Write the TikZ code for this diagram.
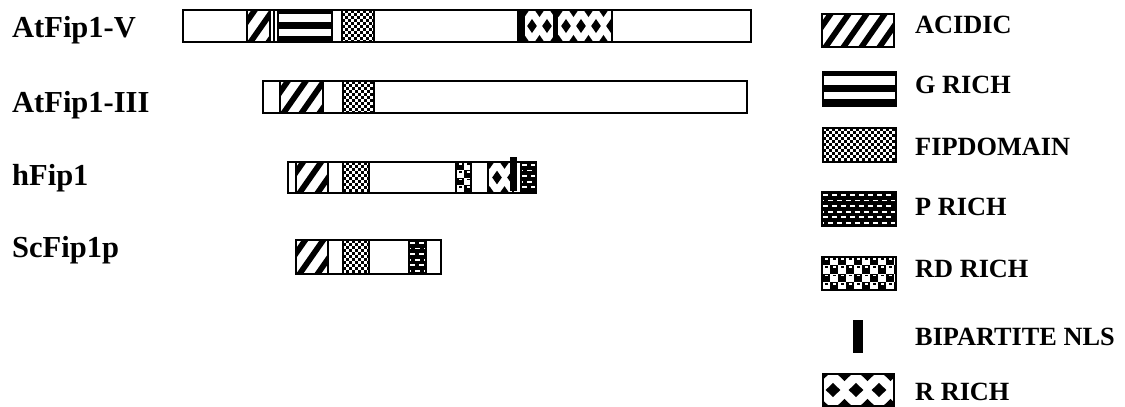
\documentclass[tikz,border=0pt]{standalone}
\usepackage{fontspec}
\setmainfont{Liberation Serif}
\tikzset{
  segb/.style={draw=black, line width=1.2pt},
  barb/.style={draw=black, line width=1.8pt, fill=white},
  lab/.style={inner sep=0pt, anchor=base west, font=\bfseries\fontsize{30.5}{31}\selectfont},
  leg/.style={inner sep=0pt, anchor=base west, font=\bfseries\fontsize{26.3}{27}\selectfont},
}
% acidic: diagonal stripes
\newcommand{\PatAcid}[4]{%
  \begin{scope}
    \clip (#1,#2) rectangle (#3,#4);
    \fill[white] (#1,#2) rectangle (#3,#4);
    \pgfmathsetmacro{\hh}{#4-#2}
    \foreach \k in {0,...,9}{%
      \pgfmathsetmacro{\xa}{#1-54+\k*18}
      \fill (\xa,#4) -- (\xa+7,#4) -- (\xa+7+0.7*\hh,#2) -- (\xa+0.7*\hh,#2) -- cycle;}
  \end{scope}
  \draw[segb] (#1,#2) rectangle (#3,#4);}
% G rich: horizontal bands
\newcommand{\PatG}[4]{%
  \begin{scope}
    \clip (#1,#2) rectangle (#3,#4);
    \fill[white] (#1,#2) rectangle (#3,#4);
    \pgfmathsetmacro{\hh}{#4-#2}
    \foreach \a/\b in {0/0.13,0.38/0.58,0.8/1}{%
      \fill (#1,#2+\a*\hh) rectangle (#3,#2+\b*\hh);}
  \end{scope}
  \draw[segb] (#1,#2) rectangle (#3,#4);}
% FIP domain: fine checkerboard
\newcommand{\PatFip}[4]{%
  \begin{scope}
    \clip (#1,#2) rectangle (#3,#4);
    \fill[black] (#1,#2) rectangle (#3,#4);
    \foreach \i in {0,...,13}{\foreach \j in {0,...,6}{%
      \fill[white] (#1+\i*6,#2+\j*6) rectangle ++(3,3);
      \fill[white] (#1+\i*6+3,#2+\j*6+3) rectangle ++(3,3);}}
  \end{scope}
  \draw[segb] (#1,#2) rectangle (#3,#4);}
% P rich: black with white dashes
\newcommand{\PatP}[4]{%
  \begin{scope}
    \clip (#1,#2) rectangle (#3,#4);
    \fill[black] (#1,#2) rectangle (#3,#4);
    \foreach \j in {0,2,4,6}{\foreach \i in {0,...,10}{%
      \fill[white] (#1-8+\i*9,#2+2+\j*5.6) rectangle ++(5,1.7);}}
    \foreach \j in {1,3,5}{\foreach \i in {0,...,10}{%
      \fill[white] (#1-3.5+\i*9,#2+2+\j*5.6) rectangle ++(5,1.7);}}
  \end{scope}
  \draw[segb] (#1,#2) rectangle (#3,#4);}
% RD rich: coarse checkerboard with dots
\newcommand{\PatRD}[4]{%
  \begin{scope}
    \clip (#1,#2) rectangle (#3,#4);
    \fill[white] (#1,#2) rectangle (#3,#4);
    \pgfmathsetmacro{\ch}{(#4-#2)/4}
    \foreach \i in {0,...,5}{\foreach \j in {0,1}{%
      \fill (#1+\i*16,#2+\j*2*\ch) rectangle ++(8,\ch);
      \fill (#1+\i*16+8,#2+\j*2*\ch+\ch) rectangle ++(8,\ch);
      \fill[white] (#1+\i*16+2.5,#2+\j*2*\ch+1) rectangle ++(3,1.8);
      \fill[white] (#1+\i*16+10.5,#2+\j*2*\ch+\ch+1) rectangle ++(3,1.8);
      \fill (#1+\i*16+10.5,#2+\j*2*\ch+1) rectangle ++(3,1.8);
      \fill (#1+\i*16+2.5,#2+\j*2*\ch+\ch+1) rectangle ++(3,1.8);}}
  \end{scope}
  \draw[segb] (#1,#2) rectangle (#3,#4);}
% R rich: diamonds; #5 period, #6 phase
\newcommand{\PatR}[6]{%
  \begin{scope}
    \clip (#1,#2) rectangle (#3,#4);
    \fill[white] (#1,#2) rectangle (#3,#4);
    \pgfmathsetmacro{\hw}{0.32*#5}
    \pgfmathsetmacro{\dv}{0.22*(#4-#2)}
    \pgfmathsetmacro{\cm}{(#2+#4)/2}
    \foreach \k in {0,...,8}{%
      \pgfmathsetmacro{\cx}{#1+#6+\k*#5-#5}
      \pgfmathsetmacro{\ex}{\cx+0.5*#5}
      \fill (\cx-\hw,\cm) -- (\cx,\cm-\dv) -- (\cx+\hw,\cm) -- (\cx,\cm+\dv) -- cycle;
      \fill (\ex-\hw,#2) -- (\ex,#2-\dv) -- (\ex+\hw,#2) -- (\ex,#2+\dv) -- cycle;
      \fill (\ex-\hw,#4) -- (\ex,#4-\dv) -- (\ex+\hw,#4) -- (\ex,#4+\dv) -- cycle;}
  \end{scope}
  \draw[segb] (#1,#2) rectangle (#3,#4);}

\begin{document}
\begin{tikzpicture}[x=1pt,y=-1pt]
\useasboundingbox (0,0) rectangle (1125,407);

% ---------- labels ----------
\node[lab] (lV)   at (12,37)  {AtFip1-V};
\node[lab] (lIII) at (12,112) {AtFip1-III};
\node[lab] (lh)   at (12,185) {hFip1};
\node[lab] (lSc)  at (12,257) {ScFip1p};

% ---------- AtFip1-V ----------
\draw[barb] (183,10) rectangle (751,42);
\PatAcid{247}{10}{270}{42}
\draw[segb] (274,10) -- (274,42);
\PatG{278}{10}{332}{42}
\PatFip{342}{10}{374}{42}
\PatR{518}{10}{557}{42}{15}{14}
\fill (518,10) rectangle (525,42);
\fill (553,10) rectangle (557,42);
\PatR{557}{10}{612}{42}{15}{9}
\draw[line width=1.8pt] (183,10) rectangle (751,42);

% ---------- AtFip1-III ----------
\draw[barb] (263,81) rectangle (747,113);
\PatAcid{280}{81}{323}{113}
\PatFip{343}{81}{374}{113}
\draw[line width=1.8pt] (263,81) rectangle (747,113);

% ---------- hFip1 ----------
\draw[barb] (288,162) rectangle (536,193);
\PatAcid{296}{162}{328}{193}
\PatFip{343}{162}{369}{193}
\PatRD{456}{162}{471}{193}
\PatR{488}{162}{513}{193}{15}{9}
\PatP{521}{162}{536}{193}
\fill (510,157) rectangle (517,191);
\draw[line width=1.8pt] (288,162) rectangle (536,193);

% ---------- ScFip1p ----------
\draw[barb] (296,240) rectangle (441,274);
\PatAcid{296}{240}{328}{274}
\PatFip{343}{240}{369}{274}
\PatP{409}{240}{426}{274}
\draw[line width=1.8pt] (296,240) rectangle (441,274);

% ---------- legend ----------
\PatAcid{822}{14}{894}{47}
\PatG{823}{72}{896}{106}
\PatFip{823}{128}{896}{162}
\PatP{822}{192}{896}{226}
\PatRD{822}{257}{896}{290}
\fill (853,320) rectangle (863,353);
\PatR{823}{374}{894}{406}{23}{10}

\node[leg] (gA)  at (915,33)  {ACIDIC};
\node[leg] (gG)  at (915,93)  {G RICH};
\node[leg] (gF)  at (915,155) {FIPDOMAIN};
\node[leg] (gP)  at (915,215) {P RICH};
\node[leg] (gRD) at (915,277) {RD RICH};
\node[leg] (gN)  at (915,345) {BIPARTITE NLS};
\node[leg] (gR)  at (915,400) {R RICH};
\end{tikzpicture}
\end{document}
